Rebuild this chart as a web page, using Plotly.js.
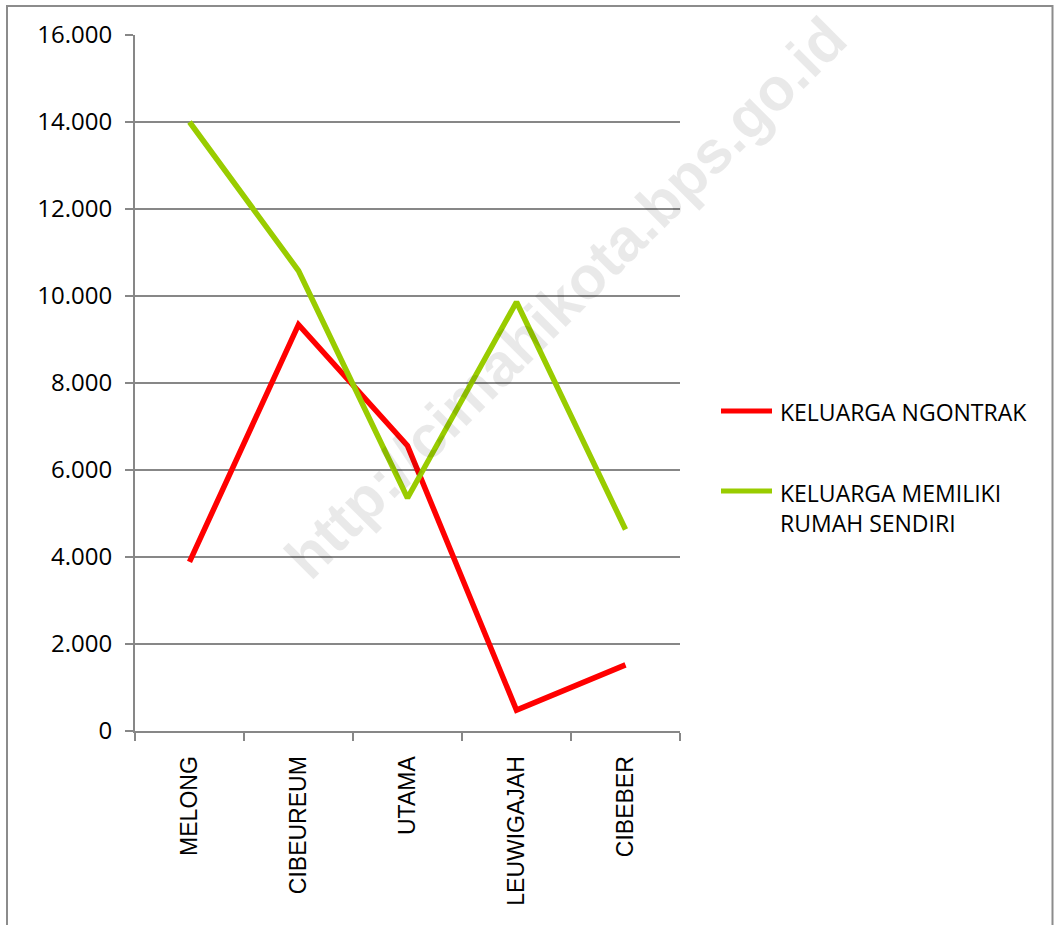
<!DOCTYPE html>
<html>
<head>
<meta charset="utf-8">
<script src="https://cdn.plot.ly/plotly-3.0.1.min.js"></script>
<style>html,body{margin:0;padding:0;background:#fff;}#chart{width:1054px;height:925px;}</style>
</head>
<body>
<div id="chart"></div>
<script>
const categories = ["MELONG", "CIBEUREUM", "UTAMA", "LEUWIGAJAH", "CIBEBER"];
const ngontrak = [3890, 9340, 6560, 480, 1520];
const rumahSendiri = [14000, 10580, 5356, 9862, 4632];
const seriesNames = ["KELUARGA NGONTRAK", "KELUARGA MEMILIKI<br>RUMAH SENDIRI"];
const yTicks = [0, 2000, 4000, 6000, 8000, 10000, 12000, 14000, 16000];

const gridCol = "#878787";
const redCol = "#ff0000";
const greenCol = "#99cc00";

const traces = [
  {x: categories, y: ngontrak, type: "scatter", mode: "lines", name: seriesNames[0],
   line: {color: redCol, width: 5.5}, showlegend: false},
  {x: categories, y: rumahSendiri, type: "scatter", mode: "lines", name: seriesNames[1],
   line: {color: greenCol, width: 5.5}, showlegend: false}
];

function px(x){ return (x - 135) / 545; }
function py(y){ return (731 - y) / 696; }

const layout = {
  width: 1054, height: 925,
  margin: {l: 135, r: 374, t: 35, b: 194},
  paper_bgcolor: "#ffffff", plot_bgcolor: "#ffffff",
  separators: ",.",
  font: {family: "Open Sans, sans-serif", color: "#000"},
  xaxis: {
    type: "category", range: [-0.5, 4.5],
    showgrid: false, showline: true, linecolor: gridCol, linewidth: 2,
    ticks: "outside", ticklen: 8, tickcolor: gridCol, tickwidth: 2,
    tickson: "boundaries", tickangle: -90,
    tickfont: {family: "Liberation Sans, Arial, sans-serif", size: 23, color: "#000"},
    ticklabelstandoff: 14, zeroline: false
  },
  yaxis: {
    range: [0, 16000], tickvals: yTicks, tickformat: ",",
    showgrid: true, gridcolor: gridCol, gridwidth: 2,
    showline: true, linecolor: gridCol, linewidth: 2,
    ticks: "outside", ticklen: 8, tickcolor: gridCol, tickwidth: 2,
    tickfont: {family: "Open Sans, sans-serif", size: 24, color: "#000"},
    ticklabelstandoff: 8, zeroline: false
  },
  shapes: [
    {type: "rect", xref: "paper", yref: "paper", x0: px(7), x1: px(1052.5), y0: py(940), y1: py(6),
     line: {color: "#8c8c8c", width: 2}, fillcolor: "rgba(0,0,0,0)", layer: "below"},
    {type: "line", xref: "paper", yref: "paper", x0: px(721), x1: px(772), y0: py(411), y1: py(411),
     line: {color: redCol, width: 5}},
    {type: "line", xref: "paper", yref: "paper", x0: px(721), x1: px(772), y0: py(491), y1: py(491),
     line: {color: greenCol, width: 5}}
  ],
  annotations: [
    {xref: "paper", yref: "paper", x: px(778), y: py(412), xanchor: "left", yanchor: "middle",
     text: seriesNames[0], showarrow: false, align: "left",
     font: {family: "Open Sans, sans-serif", size: 23, color: "#000"}},
    {xref: "paper", yref: "paper", x: px(778), y: py(508), xanchor: "left", yanchor: "middle",
     text: seriesNames[1], showarrow: false, align: "left",
     font: {family: "Open Sans, sans-serif", size: 23, color: "#000"}},
    {xref: "paper", yref: "paper", x: px(565), y: py(298), xanchor: "center", yanchor: "middle",
     text: "http://cimahikota.bps.go.id", showarrow: false, textangle: -45,
     font: {family: "Liberation Sans, Arial, sans-serif", size: 60, color: "rgba(0,0,0,0.085)", weight: 700}}
  ]
};

Plotly.newPlot("chart", traces, layout, {displayModeBar: false, staticPlot: true});
</script>
</body>
</html>
